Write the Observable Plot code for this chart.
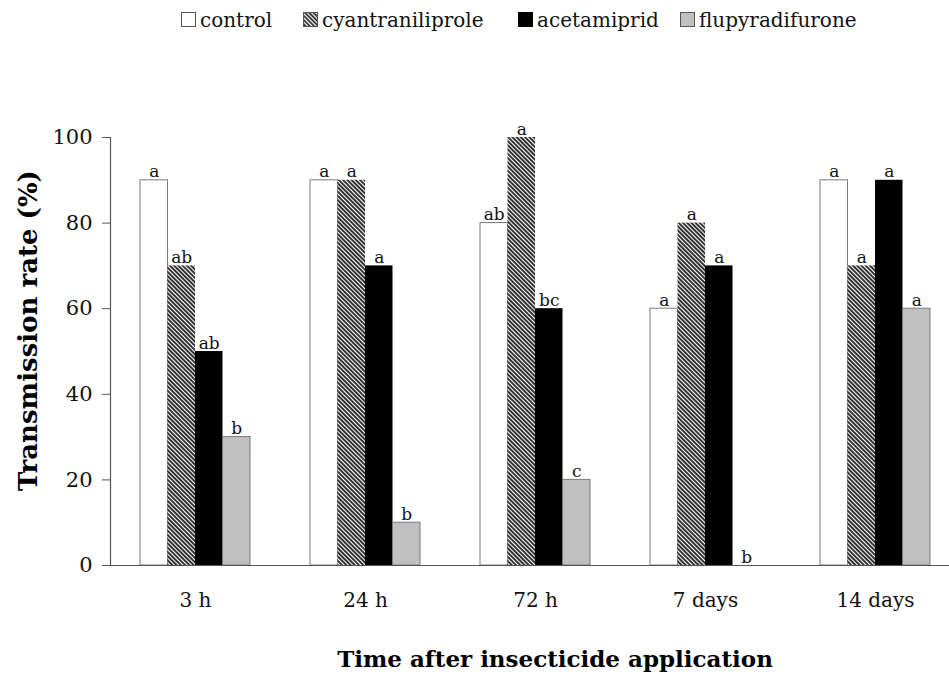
<!DOCTYPE html>
<html>
<head>
<meta charset="utf-8">
<script src="https://cdn.jsdelivr.net/npm/d3@7"></script>
<script src="https://cdn.jsdelivr.net/npm/@observablehq/plot@0.6"></script>
<style>
  body { margin: 0; background: #fff; }
  #legend { height: 42px; display: block; }
</style>
</head>
<body>
<div id="legend"></div>
<div id="chart"></div>
<script>
const times = ["3 h", "24 h", "72 h", "7 days", "14 days"];
const treatments = ["control", "cyantraniliprole", "acetamiprid", "flupyradifurone"];
const control = [90, 90, 80, 60, 90];
const cyantraniliprole = [70, 90, 100, 80, 70];
const acetamiprid = [50, 70, 60, 70, 90];
const flupyradifurone = [30, 10, 20, 0, 60];
const lettersControl = ["a", "a", "ab", "a", "a"];
const lettersCyan = ["ab", "a", "a", "a", "a"];
const lettersAcet = ["ab", "a", "bc", "a", "a"];
const lettersFlupy = ["b", "b", "c", "b", "a"];
const yTicks = [0, 20, 40, 60, 80, 100];

const seriesValues = [control, cyantraniliprole, acetamiprid, flupyradifurone];
const seriesLetters = [lettersControl, lettersCyan, lettersAcet, lettersFlupy];
const styles = [
  {fill: "#ffffff", stroke: "#7a7a7a"},
  {fill: "url(#hatch)", stroke: "none"},
  {fill: "#000000", stroke: "none"},
  {fill: "#c0c0c0", stroke: "#7a7a7a"}
];

const data = treatments.map((t, i) => times.map((time, j) => ({
  time, treatment: t, idx: i, value: seriesValues[i][j], letter: seriesLetters[i][j]
})));

const FONT = "DejaVu Serif, serif";
const W = 949, H = 636;
const ML = 110, MR = 0, MT = 95, MB = 113;
const xRange = [110, 960];
const pad = 0.353;
const step = (xRange[1] - xRange[0]) / times.length;
const bw = step * (1 - pad);
const sub = bw / treatments.length;

const marks = [];
data.forEach((rows, i) => {
  marks.push(Plot.barY(rows, {
    x: "time", y: "value",
    fill: styles[i].fill, stroke: styles[i].stroke, strokeWidth: 1,
    insetLeft: i * sub, insetRight: (treatments.length - 1 - i) * sub
  }));
});
data.forEach((rows, i) => {
  marks.push(Plot.text(rows, {
    x: "time", y: "value", text: "letter",
    dx: (i - (treatments.length - 1) / 2) * sub, dy: -3,
    lineAnchor: "bottom", fontSize: 17, fill: "#111", fontFamily: FONT
  }));
});
marks.push(Plot.ruleY([0], {stroke: "#555", strokeWidth: 1.2}));
marks.push(Plot.frame({anchor: "left", stroke: "#555", strokeWidth: 1.2}));
marks.push(Plot.axisY({ticks: yTicks, tickSize: 8, tickPadding: 10, fontSize: 21, label: null, stroke: "#555", fill: "#111", fontFamily: FONT}));
marks.push(Plot.axisX({tickSize: 0, tickPadding: 27, fontSize: 20, label: null, fill: "#111", fontFamily: FONT}));
marks.push(Plot.text(["Time after insecticide application"], {
  frameAnchor: "bottom", text: d => d, dx: 25, dy: 101,
  fontSize: 23, fontWeight: "bold", fill: "#000", fontFamily: FONT
}));
marks.push(Plot.text(["Transmission rate (%)"], {
  frameAnchor: "left", text: d => d, rotate: -90, textAnchor: "middle", dx: -82, dy: -21,
  fontSize: 26, fontWeight: "bold", fill: "#000", fontFamily: FONT
}));

const chart = Plot.plot({
  width: W, height: H,
  marginLeft: ML, marginRight: MR, marginTop: MT, marginBottom: MB,
  style: {fontFamily: FONT, background: "#fff", overflow: "visible"},
  x: {domain: times, range: xRange, paddingInner: pad, paddingOuter: pad / 2, axis: null},
  y: {domain: [0, 100], axis: null},
  marks
});

const defs = d3.select(chart).insert("defs", ":first-child");
const pat = defs.append("pattern").attr("id", "hatch").attr("patternUnits", "userSpaceOnUse")
  .attr("width", 3).attr("height", 3).attr("patternTransform", "rotate(-45)");
pat.append("rect").attr("width", 3).attr("height", 3).attr("fill", "#ffffff");
pat.append("rect").attr("width", 2).attr("height", 3).attr("fill", "#333333");
document.getElementById("chart").appendChild(chart);

// legend (SVG above the chart)
const legendPos = [181, 303, 518, 680];
const lsvg = d3.select("#legend").append("svg").attr("width", W).attr("height", 42)
  .style("display", "block");
const ldefs = lsvg.append("defs").append("pattern").attr("id", "hatchL").attr("patternUnits", "userSpaceOnUse")
  .attr("width", 3).attr("height", 3).attr("patternTransform", "rotate(-45)");
ldefs.append("rect").attr("width", 3).attr("height", 3).attr("fill", "#fff");
ldefs.append("rect").attr("width", 1.7).attr("height", 3).attr("fill", "#222");
const fills = ["#fff", "url(#hatchL)", "#000", "#c0c0c0"];
treatments.forEach((t, i) => {
  const g = lsvg.append("g").attr("transform", `translate(${legendPos[i]},12)`);
  g.append("rect").attr("x", 0.5).attr("y", 0.5).attr("width", 14).attr("height", 14)
    .attr("fill", fills[i]).attr("stroke", i === 2 ? "#000" : "#555");
  g.append("text").attr("x", 19).attr("y", 8).attr("dy", "0.35em")
    .attr("font-family", FONT).attr("font-size", 20).attr("fill", "#111").text(t);
});
</script>
</body>
</html>
